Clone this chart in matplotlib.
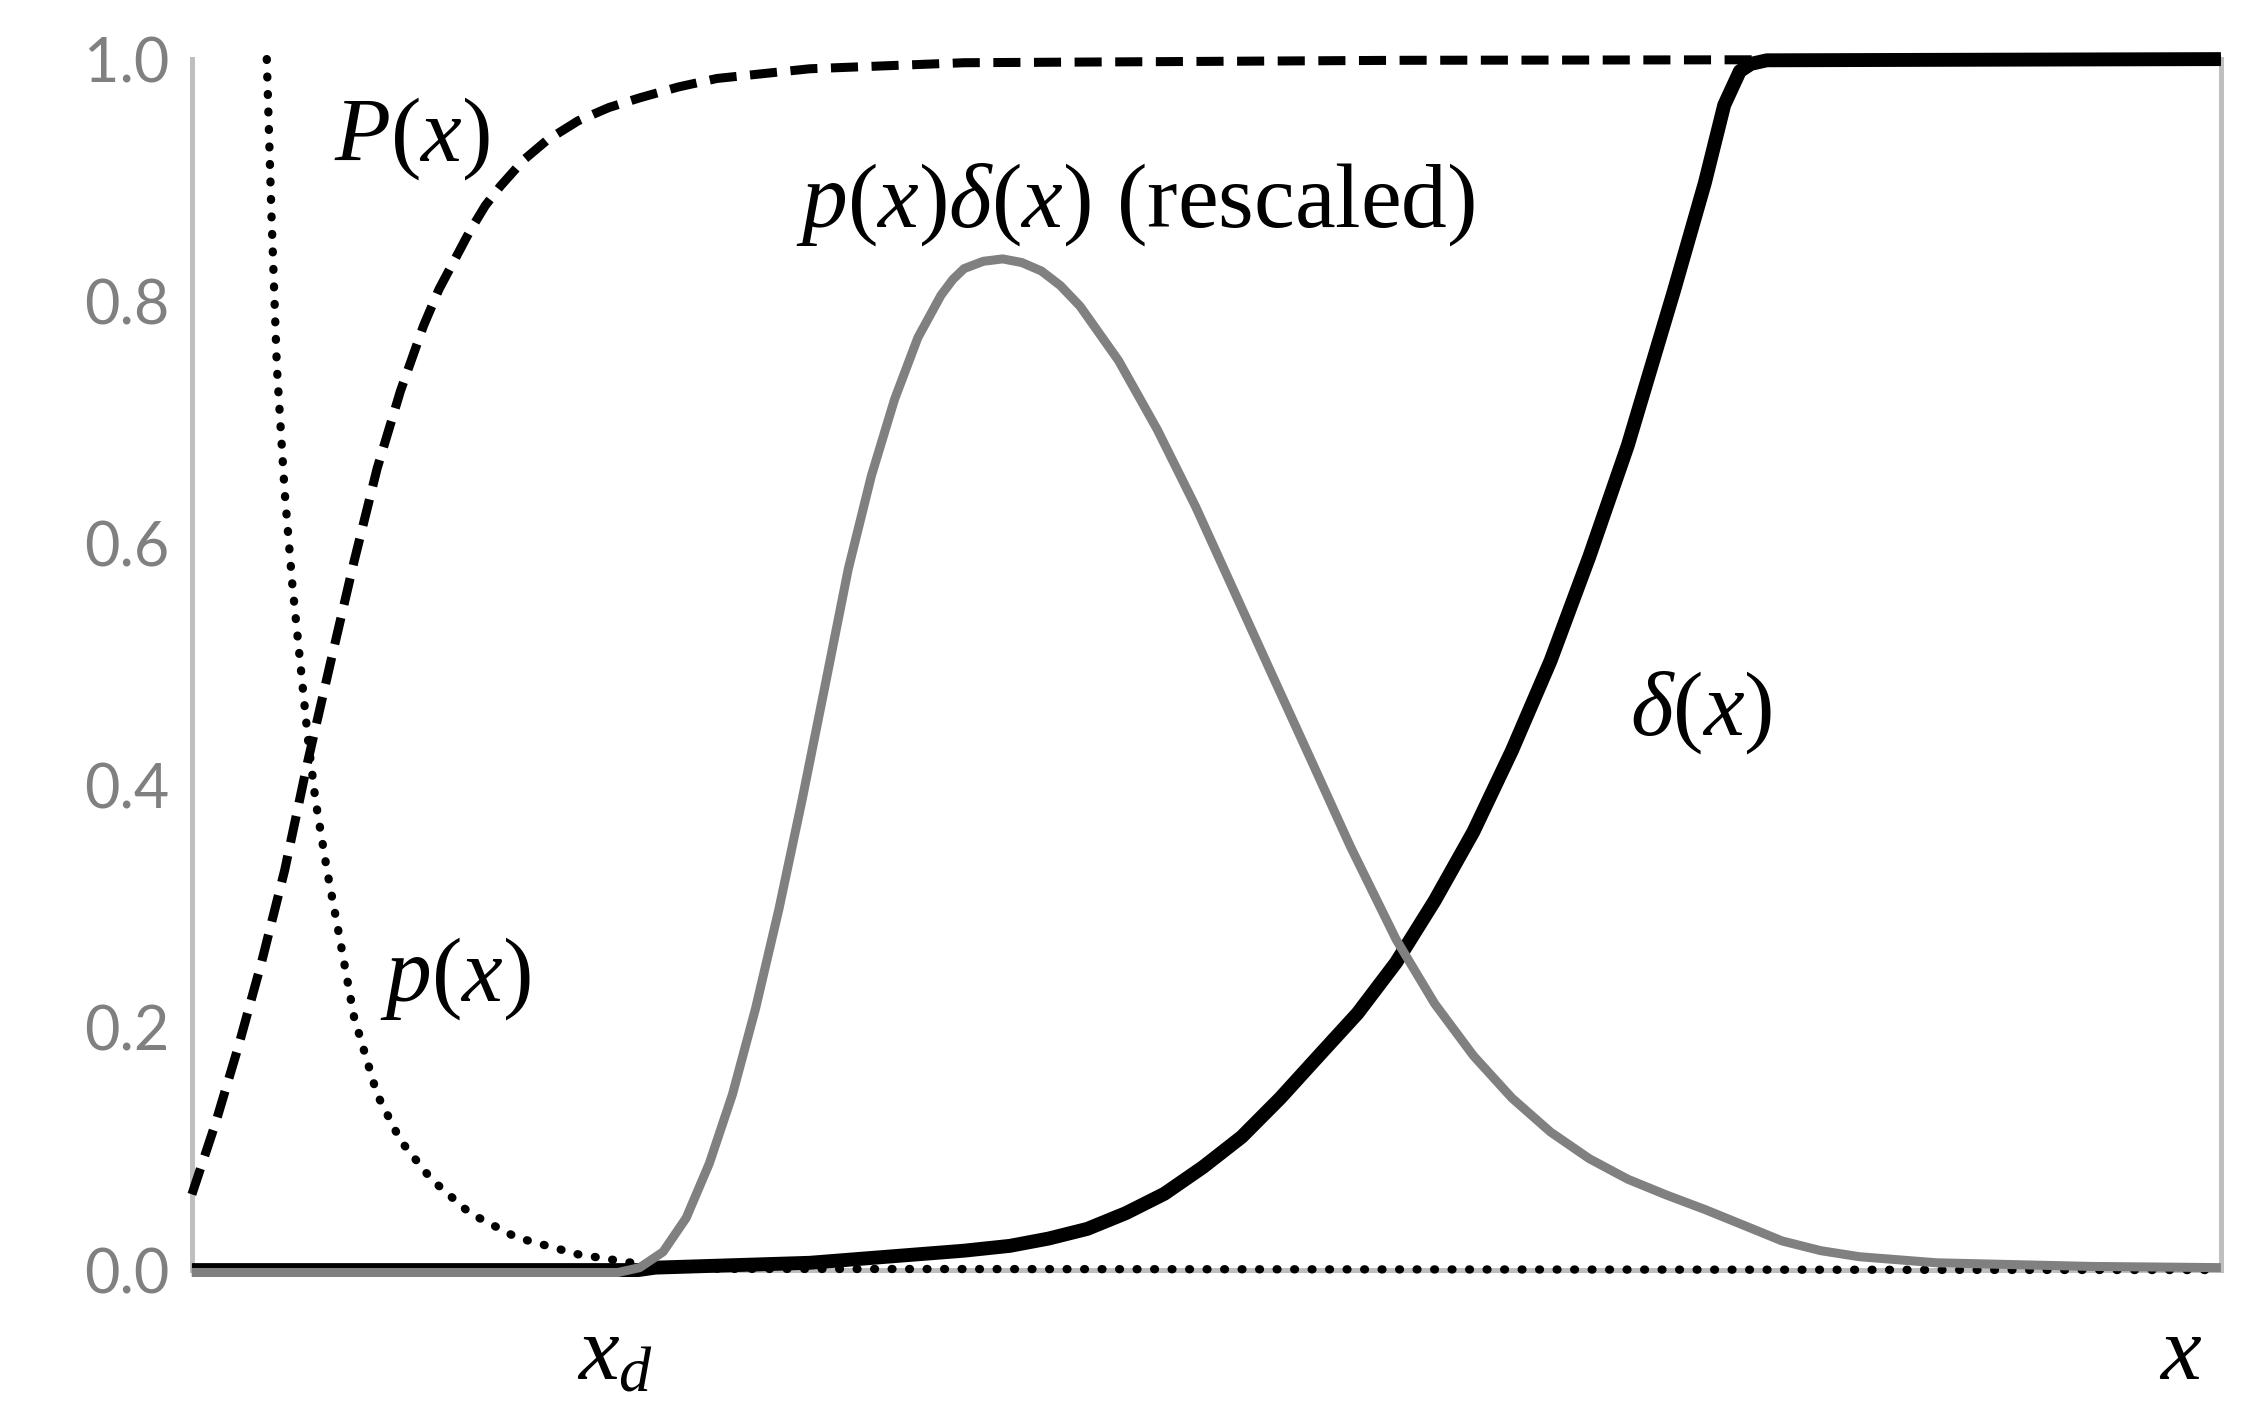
import matplotlib
matplotlib.use("Agg")
import matplotlib.pyplot as plt

plt.rcParams["mathtext.fontset"] = "custom"
plt.rcParams["mathtext.rm"] = "Liberation Serif"
plt.rcParams["mathtext.it"] = "Liberation Serif:italic"

# P(x), dashed
cdf_x = [0, 0.0114, 0.0228, 0.0343, 0.0457, 0.0571, 0.0685, 0.0799, 0.0913, 0.1028,
         0.1142, 0.1218, 0.1294, 0.1370, 0.1446, 0.1520, 0.1637, 0.1750, 0.1903, 0.2055,
         0.2207, 0.2398, 0.2588, 0.3045, 0.3806, 0.5968, 1.0]
cdf_y = [0.0625, 0.120, 0.184, 0.254, 0.330, 0.420, 0.503, 0.585, 0.662, 0.726,
         0.780, 0.810, 0.834, 0.858, 0.879, 0.895, 0.917, 0.933, 0.949, 0.960,
         0.968, 0.977, 0.984, 0.992, 0.997, 0.999, 1.0]

# p(x), dotted
pdf_x = [0.0369, 0.0392, 0.0419, 0.0457, 0.0495, 0.0533, 0.0571, 0.0609, 0.0666, 0.0723,
         0.0799, 0.0913, 0.1028, 0.1180, 0.1370, 0.1599, 0.1903, 0.2207, 0.26, 1.0]
pdf_y = [1.0, 0.872, 0.745, 0.643, 0.566, 0.503, 0.440, 0.388, 0.330, 0.279,
         0.209, 0.145, 0.107, 0.075, 0.047, 0.027, 0.013, 0.005, 0.001, 0.0]

# delta(x), thick black
delta_x = [0, 0.22, 0.2284, 0.2664, 0.3045, 0.3425, 0.3806, 0.4032, 0.4222, 0.4413,
           0.4603, 0.4793, 0.4983, 0.5174, 0.5364, 0.5554, 0.5745, 0.5935, 0.6125, 0.6316,
           0.6506, 0.6696, 0.6887, 0.7077, 0.7191, 0.7305, 0.7457, 0.7552, 0.7629, 0.7683,
           0.7762, 1.0]
delta_y = [0, 0, 0.002, 0.004, 0.006, 0.011, 0.016, 0.020, 0.026, 0.034,
           0.047, 0.063, 0.085, 0.110, 0.142, 0.177, 0.212, 0.254, 0.305, 0.362,
           0.429, 0.503, 0.589, 0.681, 0.745, 0.809, 0.898, 0.962, 0.990, 0.996,
           0.999, 1.0]

# p(x)delta(x) rescaled, gray
prod_x = [0, 0.21, 0.2207, 0.2322, 0.2436, 0.2550, 0.2664, 0.2778, 0.2893, 0.3007,
          0.3121, 0.3235, 0.3349, 0.3463, 0.3578, 0.3692, 0.3750, 0.3806, 0.3900, 0.3996,
          0.4090, 0.4187, 0.4280, 0.4377, 0.4567, 0.4758, 0.4948, 0.5138, 0.5328, 0.5519,
          0.5709, 0.5935, 0.6125, 0.6316, 0.6506, 0.6696, 0.6887, 0.7077, 0.7267, 0.7457,
          0.7648, 0.7838, 0.8028, 0.8219, 0.8599, 0.9360, 1.0]
prod_y = [-0.002, -0.002, 0.002, 0.015, 0.043, 0.088, 0.145, 0.216, 0.298, 0.388,
          0.483, 0.579, 0.656, 0.719, 0.770, 0.805, 0.818, 0.827, 0.833, 0.835,
          0.832, 0.825, 0.813, 0.796, 0.751, 0.694, 0.630, 0.560, 0.490, 0.420,
          0.350, 0.273, 0.220, 0.177, 0.142, 0.114, 0.092, 0.075, 0.062, 0.050,
          0.037, 0.024, 0.016, 0.011, 0.006, 0.003, 0.002]

yticks = [0.0, 0.2, 0.4, 0.6, 0.8, 1.0]
ytick_labels = ["0.0", "0.2", "0.4", "0.6", "0.8", "1.0"]

fig = plt.figure(figsize=(22.63, 14.17), dpi=100)
ax = fig.add_axes([0.0848, 0.1037, 0.8966, 0.8546])

ax.plot(pdf_x, pdf_y, color="black", lw=6, dashes=(0.1, 2.0),
        dash_capstyle="round", solid_joinstyle="round", clip_on=False, zorder=3)
ax.plot(cdf_x, cdf_y, color="black", lw=6.5, dashes=(3.0, 1.5),
        clip_on=False, zorder=4)
ax.plot(delta_x, delta_y, color="black", lw=10, solid_capstyle="butt",
        solid_joinstyle="round", clip_on=False, zorder=5)
ax.plot(prod_x, prod_y, color="#808080", lw=6.5, solid_capstyle="butt",
        solid_joinstyle="round", clip_on=False, zorder=6)

ax.set_xlim(0, 1)
ax.set_ylim(0, 1)
ax.set_xticks([])
ax.set_yticks(yticks)
ax.set_yticklabels(ytick_labels, family=["Liberation Sans Narrow", "Lato"])
ax.tick_params(axis="y", length=0, pad=16, labelsize=44, labelcolor="#808080")

ax.spines["top"].set_visible(False)
for s in ["left", "right", "bottom"]:
    ax.spines[s].set_color("#bfbfbf")
    ax.spines[s].set_linewidth(3.6)
    ax.spines[s].set_zorder(1)

fs = 66
ax.text(0.1085, 0.936, "$P(x)$", fontsize=fs, ha="center", va="center")
ax.text(0.1297, 0.242, "$p(x)$", fontsize=fs, ha="center", va="center")
ax.text(0.465, 0.880, r"$p(x)\delta(x)$ (rescaled)", fontsize=fs,
        family="Liberation Serif", ha="center", va="center")
ax.text(0.744, 0.462, r"$\delta(x)$", fontsize=fs, ha="center", va="center")
ax.text(0.2085, -0.090, "$x_d$", fontsize=fs, ha="center", va="baseline")
ax.text(0.980, -0.090, "$x$", fontsize=fs, ha="center", va="baseline")

plt.savefig("out.png", dpi=100)
